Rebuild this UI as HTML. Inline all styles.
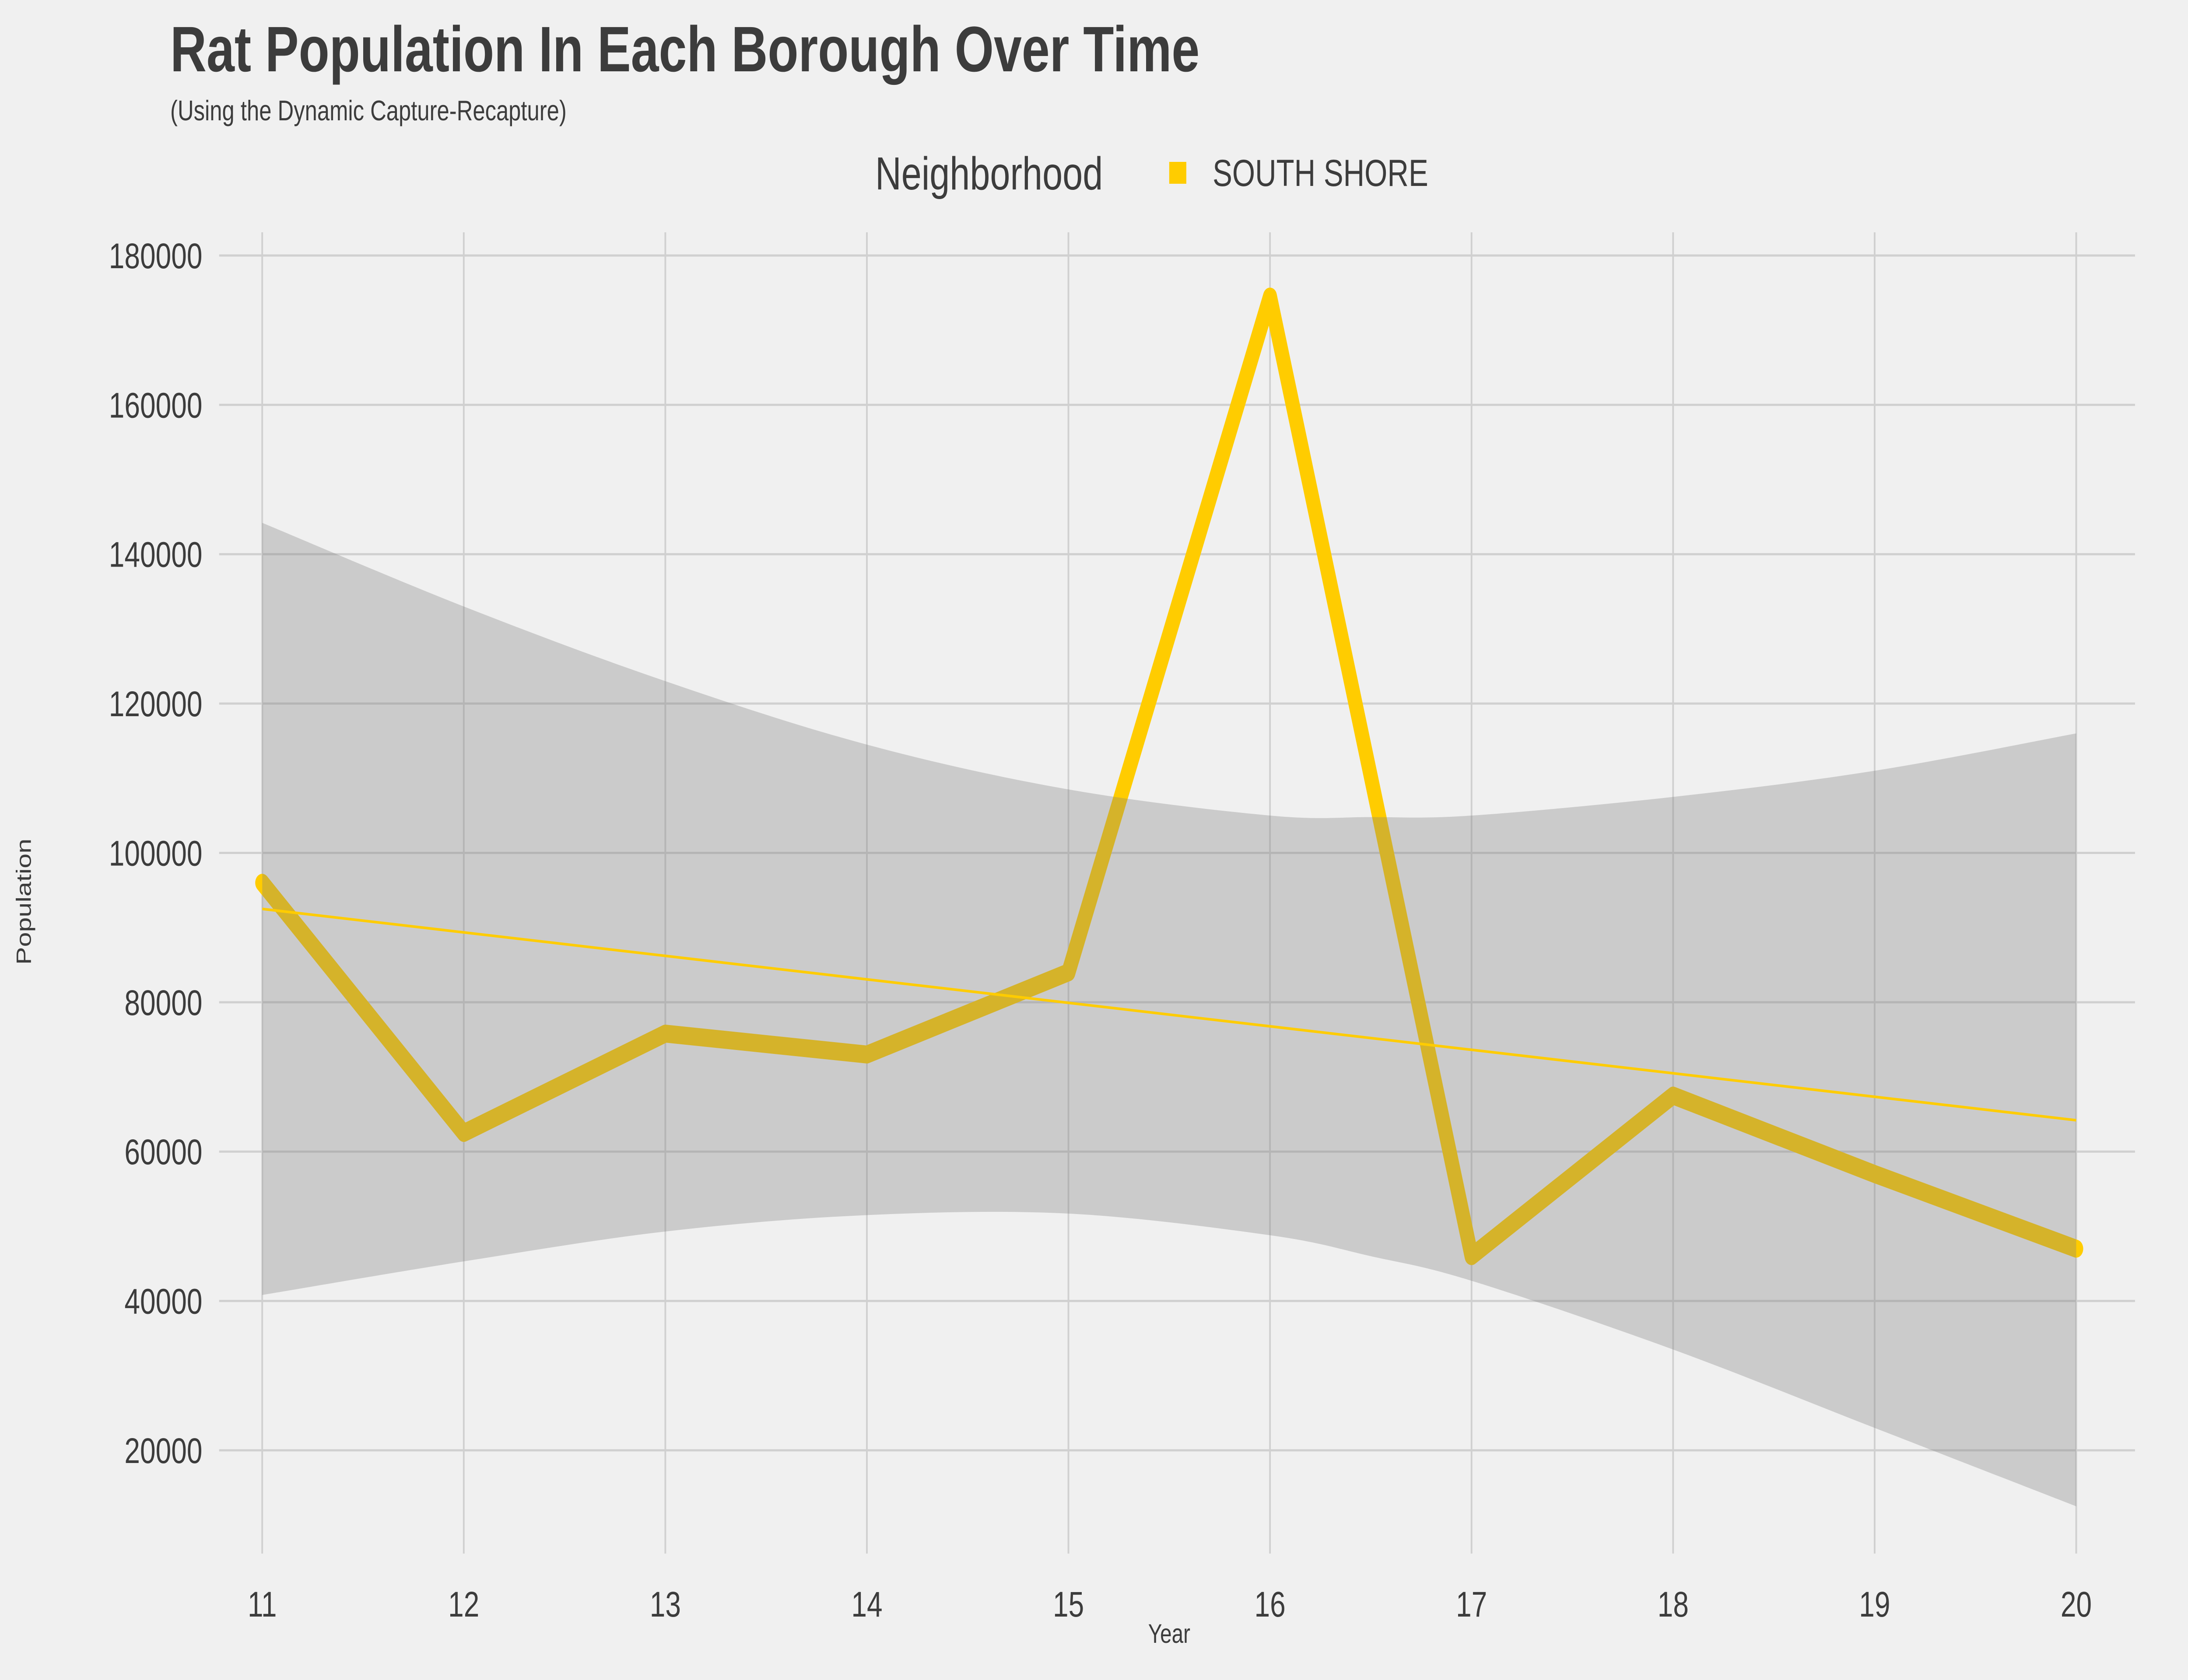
<!DOCTYPE html>
<html><head><meta charset="utf-8"><style>
html,body{margin:0;padding:0;background:#f0f0f0;width:100%;height:100%;overflow:hidden;}
svg{display:block;font-family:"Liberation Sans",sans-serif;width:100vw;height:100vh;}
</style></head><body>
<svg id="chart" viewBox="0 0 6400 3840" preserveAspectRatio="none">
<rect width="6400" height="3840" fill="#f0f0f0"/>
<text x="498" y="163" font-size="147" font-weight="bold" fill="#3c3c3c">Rat Population In Each Borough Over Time</text>
<text x="498" y="275" font-size="65" fill="#3c3c3c">(Using the Dynamic Capture-Recapture)</text>
<g>
<text x="2560" y="433" font-size="106" fill="#3c3c3c">Neighborhood</text>
<rect x="3420" y="370" width="50" height="50" fill="#ffcc00"/>
<text x="3547" y="425" font-size="86" fill="#3c3c3c">SOUTH SHORE</text>
</g>
<g id="grid"></g>
<g id="marks"></g>
<g id="axes"></g>
<text x="3420" y="3755" font-size="61" fill="#3c3c3c" text-anchor="middle">Year</text>
<text x="0" y="0" font-size="61" fill="#3c3c3c" text-anchor="middle" transform="translate(90,2061) rotate(-90)">Population</text>
</svg>
<script>
const years = [11,12,13,14,15,16,17,18,19,20];
const population = [96000,62500,75800,73000,84000,174500,46000,67500,57000,47000];
const trendStart = 92500;
const trendEnd = 64200;
const bandX = [11,12,13,14,15,16,16.5,17,18,19,20];
const bandUpper = [144200,133000,123000,114500,108500,105000,104800,105000,107500,111000,116000];
const bandLower = [40800,45300,49300,51500,51700,48800,46000,42700,33500,23000,12500];
const yTicks = [20000,40000,60000,80000,100000,120000,140000,160000,180000];
const xTicks = [11,12,13,14,15,16,17,18,19,20];

const NS = "http://www.w3.org/2000/svg";
const xS = v => 767 + (v - 11) * (6073 - 767) / 9;
const yS = v => 3315 - (v - 20000) * (3315 - 584) / 160000;
function mk(tag, attrs, parent){const e=document.createElementNS(NS,tag);for(const k in attrs)e.setAttribute(k,attrs[k]);parent.appendChild(e);return e;}
const grid=document.getElementById('grid'), marks=document.getElementById('marks'), axes=document.getElementById('axes');

yTicks.forEach(t=>{
  const l=mk('line',{x1:641,x2:6245,y1:yS(t),y2:yS(t),stroke:'#d0d0d0','stroke-width':5},grid);
  
  
  const tx=mk('text',{x:592,y:yS(t)+29,'font-size':82,fill:'#3c3c3c','text-anchor':'end'},axes);
  tx.textContent=t;
  
  
});
xTicks.forEach(t=>{
  const l=mk('line',{x1:xS(t),x2:xS(t),y1:531,y2:3551,stroke:'#d0d0d0','stroke-width':5},grid);
  
  
  const tx=mk('text',{x:xS(t),y:3695,'font-size':82,fill:'#3c3c3c','text-anchor':'middle'},axes);
  tx.textContent=t;
  
  
});

const pts=years.map((y,i)=>xS(y)+','+yS(population[i])).join(' ');
const line=mk('polyline',{points:pts,fill:'none',stroke:'#ffcc00','stroke-width':41,'stroke-linejoin':'round','stroke-linecap':'round'},marks);



function smooth(xs, ys){
  const p=xs.map((x,i)=>[xS(x),yS(ys[i])]);
  let d='';
  for(let i=0;i<p.length-1;i++){
    const p0=p[Math.max(i-1,0)],p1=p[i],p2=p[i+1],p3=p[Math.min(i+2,p.length-1)];
    const c1=[p1[0]+(p2[0]-p0[0])/6,p1[1]+(p2[1]-p0[1])/6];
    const c2=[p2[0]-(p3[0]-p1[0])/6,p2[1]-(p3[1]-p1[1])/6];
    d+=' C'+c1+' '+c2+' '+p2;
  }
  return {start:p[0],d};
}
const up=smooth(bandX,bandUpper);
const lo=smooth(bandX.slice().reverse(),bandLower.slice().reverse());
const band=mk('path',{d:'M'+up.start+up.d+' L'+lo.start+lo.d+' Z',fill:'rgba(128,128,128,0.33)'},marks);



const trend=mk('line',{x1:xS(11),y1:yS(trendStart),x2:xS(20),y2:yS(trendEnd),stroke:'#ffcc00','stroke-width':6},marks);


</script>
</body></html>
